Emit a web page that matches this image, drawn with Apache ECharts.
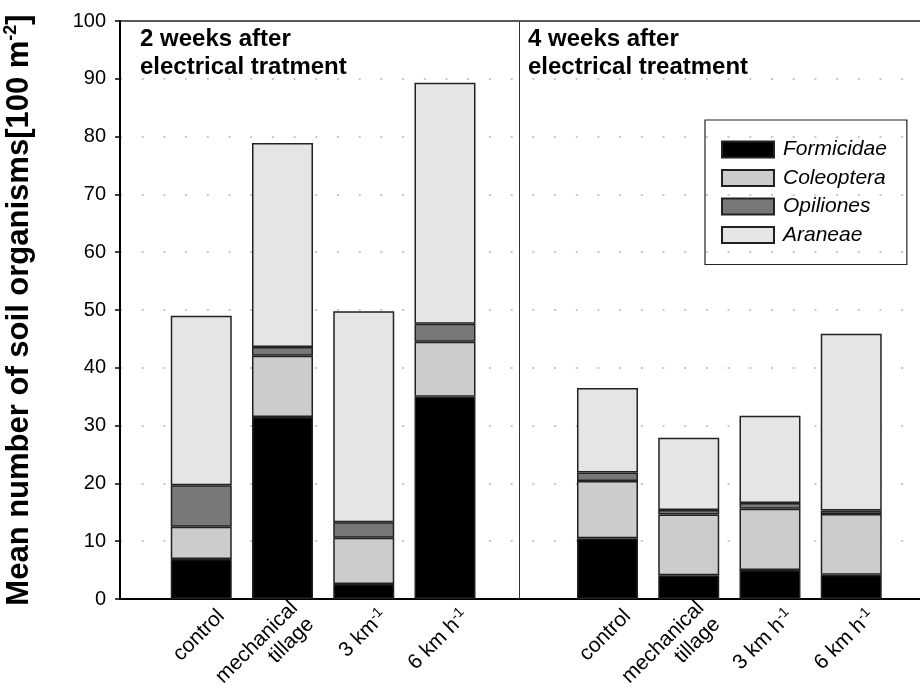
<!DOCTYPE html>
<html>
<head>
<meta charset="utf-8">
<script src="https://cdn.jsdelivr.net/npm/echarts@6/dist/echarts.min.js"></script>
<style>
  html, body { margin: 0; padding: 0; background: #fff; overflow: hidden; }
  #chart { width: 920px; height: 695px; }
</style>
</head>
<body>
<div id="chart"></div>
<script>
// treatments, 2 weeks panel and 4 weeks panel
const labels2w = ['{a|control}', '{a|mechanical}\n{a|tillage}', '{a|3 km}{s|-1}', '{a|6 km h}{s|-1}'];
const labels4w = ['{a|control}', '{a|mechanical}\n{a|tillage}', '{a|3 km h}{s|-1}', '{a|6 km h}{s|-1}'];

// stacked values, mean number per 100 m2
const formicidae2w = [6.9, 31.5, 2.6, 35.0];
const coleoptera2w = [5.6, 10.6, 8.0, 9.5];
const opiliones2w  = [7.2, 1.5, 2.7, 3.1];
const araneae2w    = [29.3, 35.3, 36.5, 41.7];

const formicidae4w = [10.5, 4.1, 5.0, 4.2];
const coleoptera4w = [9.9, 10.5, 10.6, 10.5];
const opiliones4w  = [1.5, 0.8, 1.0, 0.6];
const araneae4w    = [14.6, 12.5, 15.1, 30.6];

const yTicks = [0, 10, 20, 30, 40, 50, 60, 70, 80, 90, 100];

// slot positions on the x scale (gap slot between the two panels)
const X_MAX = 9.871;
const DIVIDER_X = 4.923;
const FONT = '"Liberation Sans", Arial, sans-serif';

const tickLabels = [''].concat(labels2w, [''], labels4w);

// [value, slot] so that the value column is the stacked one
function pairs(a, b) {
  return a.map((v, i) => [v, i + 1]).concat(b.map((v, i) => [v, i + 6]));
}

const chart = echarts.init(document.getElementById('chart'));

function bar(name, color, a, b, extra) {
  return Object.assign({
    name: name,
    type: 'bar',
    stack: 'total',
    barWidth: 61,
    xAxisIndex: 0,
    yAxisIndex: 0,
    encode: { x: 1, y: 0 },
    data: pairs(a, b),
    itemStyle: { color: color, borderColor: '#222', borderWidth: 1.5 },
    emphasis: { disabled: true }
  }, extra || {});
}

const titleStyle = { fontFamily: FONT, fontSize: 24, fontWeight: 'bold', lineHeight: 28, color: '#000' };

const option = {
  animation: false,
  textStyle: { fontFamily: FONT },
  title: [
    { text: '2 weeks after\nelectrical tratment', left: 140, top: 25, padding: 0, textStyle: titleStyle },
    { text: '4 weeks after\nelectrical treatment', left: 528, top: 25, padding: 0, textStyle: titleStyle }
  ],
  legend: {
    orient: 'vertical',
    left: 705, top: 120,
    padding: [19, 20, 19, 16],
    itemWidth: 52, itemHeight: 16, itemGap: 7.5,
    icon: 'rect',
    borderColor: '#222', borderWidth: 1.2,
    selectedMode: false,
    textStyle: { fontFamily: FONT, fontSize: 21, fontStyle: 'italic', color: '#000', padding: [0, 0, 0, 4] },
    data: ['Formicidae', 'Coleoptera', 'Opiliones', 'Araneae']
  },
  grid: [
    {
      left: 120, right: -2, top: 21, bottom: 96,
      outerBoundsMode: 'none', containLabel: false,
      show: true, borderColor: '#222', borderWidth: 1.5
    },
    {
      // same scale, nudged right: carries the slanted tick labels only
      left: 140, right: -22, top: 21, bottom: 96,
      outerBoundsMode: 'none', containLabel: false, show: false
    }
  ],
  xAxis: [
    {
      gridIndex: 0, type: 'value', min: 0, max: X_MAX, interval: 1,
      axisLine: { show: true, lineStyle: { color: '#000', width: 2 } },
      axisTick: { show: false }, axisLabel: { show: false }, splitLine: { show: false }
    },
    {
      gridIndex: 1, type: 'value', min: 0, max: X_MAX, interval: 1,
      axisLine: { show: false }, axisTick: { show: false }, splitLine: { show: false },
      axisLabel: {
        rotate: 45, margin: 14, showMinLabel: true, showMaxLabel: true,
        formatter: function (v) {
          const r = Math.round(v);
          if (Math.abs(v - r) > 0.02) return '';
          return tickLabels[r] || '';
        },
        rich: {
          a: { fontFamily: FONT, fontSize: 21, color: '#000', lineHeight: 23 },
          s: { fontFamily: FONT, fontSize: 14, color: '#000', verticalAlign: 'top', lineHeight: 14 }
        }
      }
    }
  ],
  yAxis: [
    {
      gridIndex: 0, type: 'value', min: yTicks[0], max: yTicks[yTicks.length - 1], interval: 10,
      name: '{t|Mean number of soil organisms[100 m}{s|-2}{t|]}',
      nameLocation: 'middle', nameGap: 84,
      nameTextStyle: {
        rich: {
          t: { fontFamily: FONT, fontSize: 31, fontWeight: 'bold', color: '#000', lineHeight: 34 },
          s: { fontFamily: FONT, fontSize: 18, fontWeight: 'bold', color: '#000', verticalAlign: 'top', lineHeight: 18 }
        }
      },
      axisLine: { show: true, lineStyle: { color: '#000', width: 2 } },
      axisTick: { show: true, length: 5, lineStyle: { color: '#000', width: 1.5 } },
      axisLabel: { fontFamily: FONT, fontSize: 20, color: '#000', margin: 14 },
      splitLine: {
        show: true, showMinLine: false, showMaxLine: false,
        lineStyle: { color: '#b5b5b5', width: 1.5, type: [2, 19.7] }
      }
    },
    {
      gridIndex: 1, type: 'value', min: yTicks[0], max: yTicks[yTicks.length - 1], show: false
    }
  ],
  series: [
    bar('Formicidae', '#000000', formicidae2w, formicidae4w, {
      markLine: {
        silent: true, symbol: 'none', label: { show: false },
        lineStyle: { color: '#333', width: 1, type: 'solid' },
        data: [{ xAxis: DIVIDER_X }]
      }
    }),
    bar('Coleoptera', '#cccccc', coleoptera2w, coleoptera4w),
    bar('Opiliones', '#787878', opiliones2w, opiliones4w),
    bar('Araneae', '#e5e5e5', araneae2w, araneae4w)
  ]
};

chart.setOption(option);
</script>
</body>
</html>
